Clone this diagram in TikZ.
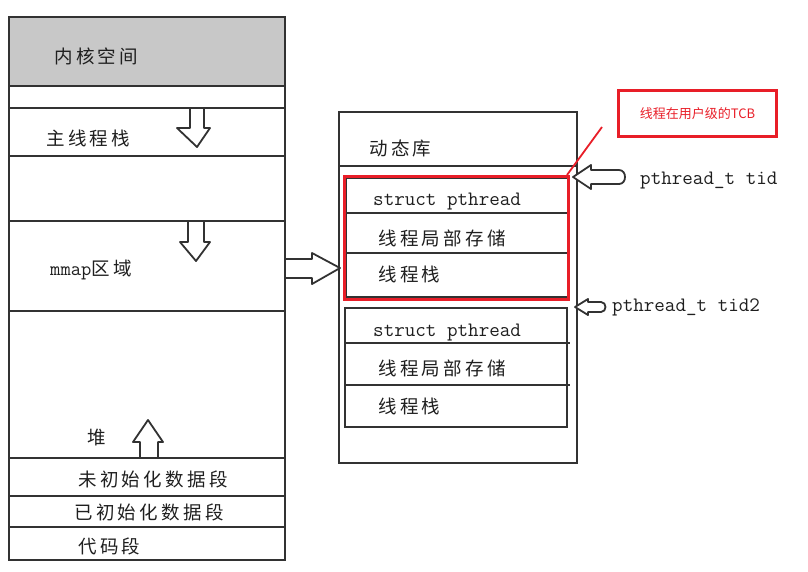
\documentclass[tikz,border=0pt]{standalone}
\usepackage{fontspec}
\setmainfont{Liberation Serif}
\newfontfamily\cjk[LetterSpace=18]{Noto Sans CJK SC}
\newfontfamily\cjkplain{Noto Sans CJK SC}
\definecolor{tcbred}{RGB}{232,30,40}
\definecolor{ink}{RGB}{50,50,50}
\definecolor{kgray}{RGB}{200,200,200}
\begin{document}
\begin{tikzpicture}[x=1pt,y=-1pt,
  box/.style={draw=ink,line width=2pt},
  sep/.style={draw=ink,line width=1.8pt},
  arr/.style={draw=ink,line width=1.8pt,fill=white,line join=round},
  lbl/.style={anchor=west,inner sep=0pt,text=black!88,font=\fontsize{18.5}{20}\selectfont\cjk},
  code/.style={anchor=base west,inner sep=0pt,text=black!88,font=\fontsize{20.5}{22}\selectfont\ttfamily},
  redbox/.style={draw=tcbred,line width=3pt}]
\useasboundingbox (0,0) rectangle (808,571);

% ---------- left address space ----------
\fill[kgray] (9,17) rectangle (285,86);
\draw[box] (9,17) rectangle (285,560);
\foreach \yy in {86,108,156,221,311,458,496,527}
  \draw[sep] (9,\yy) -- (285,\yy);

\node[lbl] (kernel) at (54,56) {内核空间};
\node[lbl] (mainstack) at (46,138) {主线程栈};
\node[lbl] (mmap) at (50,270) {{\fontsize{20}{22}\selectfont\ttfamily mmap}区域};
\node[lbl] (heap) at (87,438) {堆};
\node[lbl] (bss) at (78,479) {未初始化数据段};
\node[lbl] (data) at (74,512) {已初始化数据段};
\node[lbl] (text) at (78,546) {代码段};

% hollow arrows in left box
\draw[arr] (190,108) -- (204,108) -- (204,128) -- (210,128) -- (197,147) -- (177,128) -- (190,128) -- cycle;
\draw[arr] (188,221) -- (204,221) -- (204,242) -- (210,242) -- (196,261) -- (180,242) -- (188,242) -- cycle;
\draw[arr] (140,458) -- (158,458) -- (158,442) -- (163,442) -- (148,420) -- (133,442) -- (140,442) -- cycle;

% ---------- right: dynamic library region ----------
\draw[box] (339,112) rectangle (577,463);
\draw[sep] (339,166) -- (577,166);
\node[lbl] (dynlib) at (369,148) {动态库};

% first thread block
\draw[box] (346,178) rectangle (568,297);
\draw[sep] (346,213) -- (570,213);
\draw[sep] (346,253) -- (570,253);
\node[code] (sp1) at (373,205) {struct pthread};
\node[lbl] (tls1) at (378,238) {线程局部存储};
\node[lbl] (ts1) at (378,274) {线程栈};
\draw[redbox] (344,176) rectangle (568,299);
\coordinate (tcbcorner) at (567,175);

% second thread block
\draw[box] (345,308) rectangle (567,427);
\draw[sep] (345,343) -- (570,343);
\draw[sep] (345,385) -- (570,385);
\node[code] (sp2) at (373,336) {struct pthread};
\node[lbl] (tls2) at (378,368) {线程局部存储};
\node[lbl] (ts2) at (378,406) {线程栈};

% arrow from mmap region to dynamic library
\draw[arr] (285,259) -- (312,259) -- (312,253) -- (340,268) -- (312,284) -- (312,278) -- (285,278) -- cycle;

% pthread_t handles
\node[code] (tid) at (640,184) {pthread\_t tid};
\draw[arr] (573,177) -- (591,165) -- (591,170) -- (619,170) .. controls (627,170) and (627,184) .. (619,184) -- (591,184) -- (591,189) -- cycle;
\node[code] (tid2) at (612,311) {pthread\_t tid2};
\draw[arr] (575,307) -- (588,299) -- (588,302) -- (601,302) .. controls (607,302) and (607,312) .. (601,312) -- (588,312) -- (588,315) -- cycle;

% TCB callout
\node[draw=tcbred,line width=3pt,minimum width=158pt,minimum height=46pt,inner sep=0pt,
      text=tcbred,font=\fontsize{13}{15}\selectfont\cjkplain] (tcb) at (697.5,113.5) {线程在用户级的TCB};
\coordinate (calloutend) at (602,127);
\draw[tcbred,line width=1.8pt] (calloutend) -- (tcbcorner);
\end{tikzpicture}
\end{document}
